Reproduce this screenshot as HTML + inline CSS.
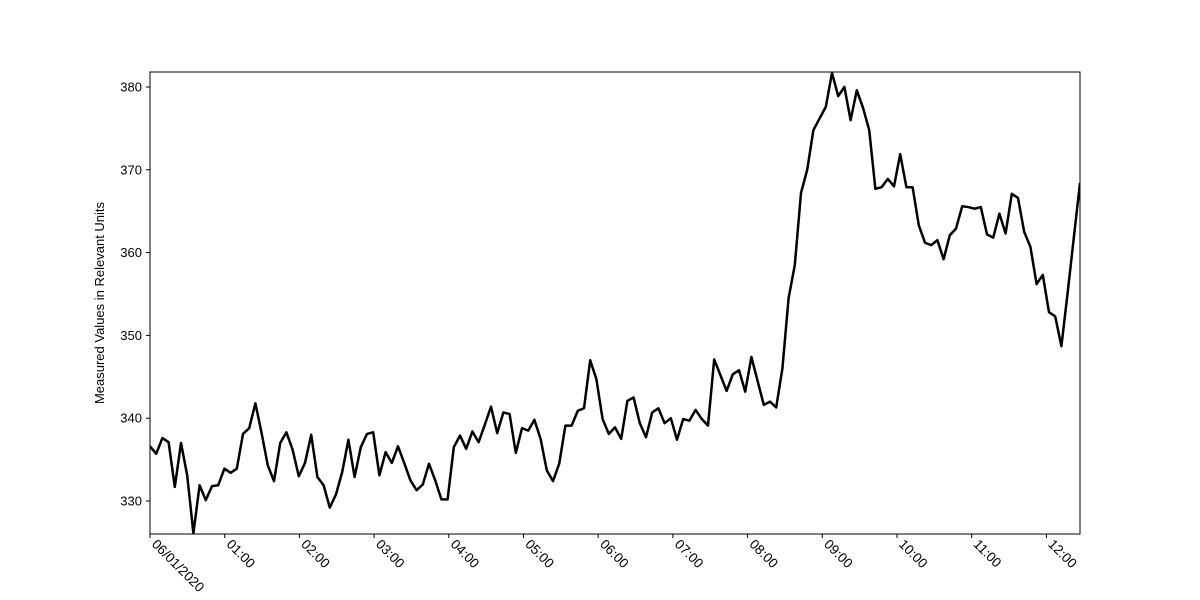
<!DOCTYPE html>
<html><head><meta charset="utf-8"><style>
body{margin:0;background:#fff}
svg{display:block;font-family:"Liberation Sans","DejaVu Sans",sans-serif}
</style></head><body>
<svg id="chart" width="1200" height="600" viewBox="0 0 1200 600" xmlns="http://www.w3.org/2000/svg">
<rect width="1200" height="600" fill="#fff"/>
<g id="plot"></g>
</svg>
<script>
const values = [336.6,335.7,337.6,337.1,331.7,337.0,333.1,326.1,331.9,330.1,331.8,331.9,333.9,333.4,333.9,338.1,338.8,341.8,338.2,334.3,332.4,337.0,338.3,336.2,333.0,334.6,338.0,332.9,331.9,329.2,330.8,333.5,337.4,332.9,336.5,338.1,338.3,333.1,335.9,334.6,336.6,334.6,332.5,331.3,332.0,334.5,332.5,330.2,330.2,336.5,337.9,336.3,338.4,337.1,339.2,341.4,338.2,340.7,340.5,335.8,338.8,338.5,339.8,337.5,333.7,332.4,334.5,339.1,339.1,340.9,341.2,347.0,344.7,339.9,338.1,338.9,337.5,342.1,342.5,339.4,337.7,340.7,341.2,339.4,340.0,337.4,339.9,339.7,341.0,339.9,339.1,347.1,345.2,343.3,345.3,345.8,343.2,347.4,344.5,341.6,342.0,341.3,346.0,354.5,358.5,367.2,370.0,374.8,376.2,377.6,381.7,378.9,380.0,376.0,379.6,377.5,374.8,367.7,367.9,368.9,368.0,371.9,367.9,367.9,363.3,361.2,360.9,361.5,359.2,362.1,362.9,365.6,365.5,365.3,365.5,362.2,361.8,364.7,362.3,367.1,366.6,362.5,360.7,356.2,357.3,352.8,352.3,348.7,355.1,361.8,368.4];
const endMinutes = 747;
const yTicks = [330,340,350,360,370,380];
const xTickMinutes = [0,60,120,180,240,300,360,420,480,540,600,660,720];
const xTickLabels = ["06/01/2020","01:00","02:00","03:00","04:00","05:00","06:00","07:00","08:00","09:00","10:00","11:00","12:00"];

const L=150,R=1080,T=72,B=534;
const stepMinutes = endMinutes/(values.length-1);
const yScale = v => 87 + (380 - v) * 8.28;
const xScale = m => L + m * ((R-L)/endMinutes);
const NS="http://www.w3.org/2000/svg";
const g=document.getElementById('plot');
function mk(tag, attrs){const e=document.createElementNS(NS,tag);for(const k in attrs)e.setAttribute(k,attrs[k]);g.appendChild(e);return e;}

const clip=document.createElementNS(NS,'clipPath');clip.setAttribute('id','clip');
const cr=document.createElementNS(NS,'rect');cr.setAttribute('x',L);cr.setAttribute('y',T);cr.setAttribute('width',R-L);cr.setAttribute('height',B-T);
clip.appendChild(cr);document.getElementById('chart').appendChild(clip);

const pts=values.map((v,i)=>xScale(i*stepMinutes).toFixed(2)+','+yScale(v).toFixed(2)).join(' ');
const line=mk('polyline',{points:pts,fill:'none',stroke:'#000','stroke-width':2.5,'stroke-linejoin':'round','clip-path':'url(#clip)'});



const frame=mk('rect',{x:L,y:T,width:R-L,height:B-T,fill:'none',stroke:'#000','stroke-width':1});



yTicks.forEach(v=>{
  const y=yScale(v);
  const t=mk('line',{x1:L-4,x2:L,y1:y,y2:y,stroke:'#000','stroke-width':1});
  
  
  const tx=mk('text',{x:L-8,y:y+4.5,'text-anchor':'end','font-size':13,fill:'#000'});
  tx.textContent=v;
  
  
});
xTickMinutes.forEach((m,i)=>{
  const x=xScale(m);
  const t=mk('line',{x1:x,x2:x,y1:B,y2:B+4,stroke:'#000','stroke-width':1});
  
  
  const tx=mk('text',{x:0,y:0,'font-size':13.5,fill:'#000',transform:`translate(${x+1},${B+11}) rotate(45)`});
  tx.textContent=xTickLabels[i];
  
  
});
const yt=mk('text',{x:0,y:0,'font-size':13,'text-anchor':'middle',fill:'#000',transform:`translate(104,${(T+B)/2}) rotate(-90)`});
yt.textContent='Measured Values in Relevant Units';


</script>
</body></html>
